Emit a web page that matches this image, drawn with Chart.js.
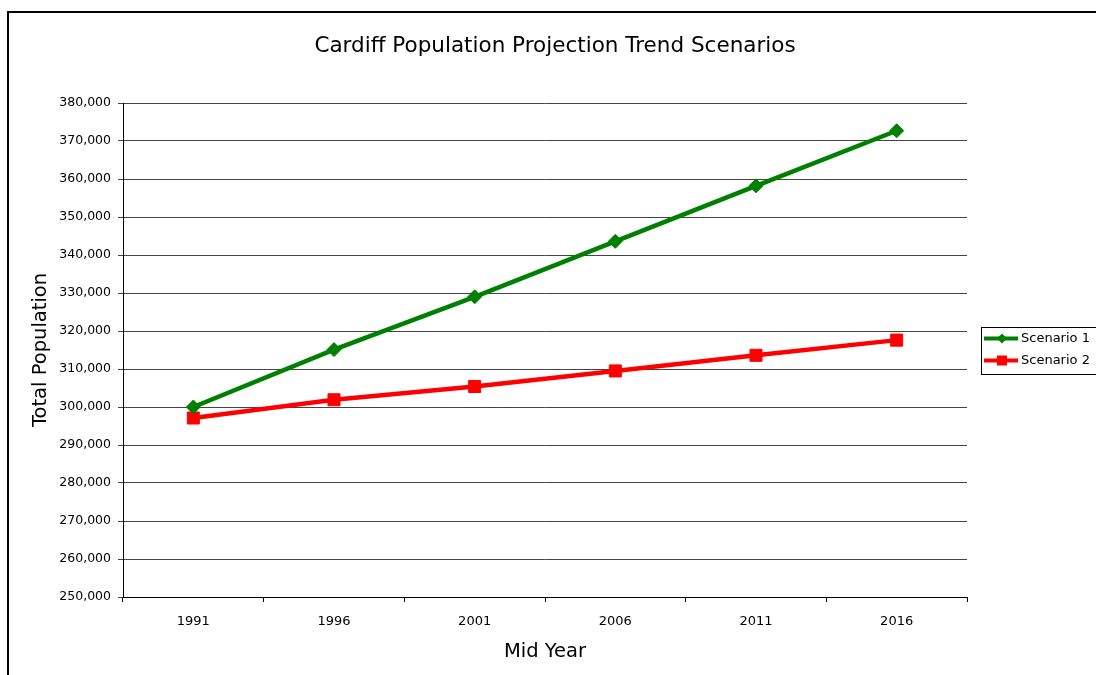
<!DOCTYPE html>
<html>
<head>
<meta charset="utf-8">
<script src="https://cdn.jsdelivr.net/npm/chart.js@4"></script>
<style>
    html, body {
        margin: 0;
        padding: 0;
        background: #fff;
        overflow: hidden;
    }

    #wrap {
        position: relative;
        width: 1096px;
        height: 675px;
    }

    #frame {
        position: absolute;
        left: 7px;
        top: 11px;
        width: 1200px;
        height: 800px;
        border: 2px solid #000;
        pointer-events: none;
    }
</style>
</head>
<body>
<div id="wrap">
    <canvas id="popChart" width="1096" height="675"></canvas>
    <div id="frame"></div>
</div>

<script>
const years = ["1991", "1996", "2001", "2006", "2011", "2016"];

const scenario1 = [300000, 315100, 329000, 343600, 358200, 372700];
const scenario2 = [297100, 301900, 305400, 309500, 313600, 317600];

const yMin = 250000;
const yMax = 380000;
const yStep = 10000;

const chartTitle = "Cardiff Population Projection Trend Scenarios";

const FONT = "'DejaVu Sans', sans-serif";

// title centred on the whole frame, not just the plot + axes
const frameTitle = {
    id: "frameTitle",
    afterDraw(chart) {
        const { ctx } = chart;
        ctx.save();
        ctx.font = "21.5px " + FONT;
        ctx.fillStyle = "#000";
        ctx.textAlign = "center";
        ctx.textBaseline = "middle";
        ctx.fillText(chartTitle, chart.width / 2 + 7, 46);
        ctx.restore();
    },
};

// boxed legend with a line + marker sample, drawn to the right of the plot
const boxLegend = {
    id: "boxLegend",
    afterDraw(chart) {
        const { ctx, chartArea } = chart;
        const sets = chart.data.datasets;
        const rowH = 22;
        const left = chartArea.right + 14;
        const width = 130;
        const height = sets.length * rowH + 3;
        const top = (chartArea.top + chartArea.bottom) / 2 - height / 2;

        ctx.save();
        ctx.strokeStyle = "#000";
        ctx.lineWidth = 1;
        ctx.strokeRect(left + 0.5, Math.round(top) + 0.5, width, Math.round(height));

        ctx.font = "13px " + FONT;
        ctx.textBaseline = "middle";

        sets.forEach((ds, i) => {
            const cy = top + 12 + i * rowH;
            ctx.strokeStyle = ds.borderColor;
            ctx.lineWidth = 4;
            ctx.beginPath();
            ctx.moveTo(left + 3, cy);
            ctx.lineTo(left + 37, cy);
            ctx.stroke();

            ctx.fillStyle = ds.borderColor;
            if (ds.pointStyle === "rectRot") {
                ctx.beginPath();
                ctx.moveTo(left + 21, cy - 5);
                ctx.lineTo(left + 26, cy);
                ctx.lineTo(left + 21, cy + 5);
                ctx.lineTo(left + 16, cy);
                ctx.closePath();
                ctx.fill();
            } else {
                ctx.fillRect(left + 16, cy - 5, 10, 10);
            }

            ctx.fillStyle = "#000";
            ctx.fillText(ds.label, left + 40, cy);
        });
        ctx.restore();
    },
};

new Chart(document.getElementById("popChart"), {
    type: "line",

    data: {
        labels: years,

        datasets: [
            {
                label: "Scenario 1",
                data: scenario1,
                borderColor: "#008000",
                backgroundColor: "#008000",
                borderWidth: 4.5,
                pointStyle: "rectRot",
                pointRadius: 7,
                pointBorderWidth: 1,
                tension: 0,
            },
            {
                label: "Scenario 2",
                data: scenario2,
                borderColor: "#ff0000",
                backgroundColor: "#ff0000",
                borderWidth: 4.5,
                pointStyle: "rect",
                pointRadius: 8.5,
                pointBorderWidth: 1,
                tension: 0,
            },
        ],
    },

    options: {
        responsive: false,
        animation: false,
        devicePixelRatio: 1,

        layout: {
            padding: {
                left: 22,
                right: 129,
                top: 103,
                bottom: 11,
            },
        },

        plugins: {
            legend: {
                display: false,
            },

            tooltip: {
                enabled: false,
            },

            title: {
                display: false,
            },
        },

        scales: {
            x: {
                offset: true,

                grid: {
                    offset: true,
                    drawOnChartArea: false,
                    drawTicks: true,
                    tickLength: 5,
                    color: "#000",
                },

                border: {
                    color: "#000",
                    width: 1,
                },

                ticks: {
                    color: "#000",
                    padding: 12,
                    maxRotation: 0,
                    font: {
                        family: FONT,
                        size: 13,
                    },
                },

                title: {
                    display: true,
                    text: "Mid Year",
                    color: "#000",
                    font: {
                        family: FONT,
                        size: 19.5,
                    },
                    padding: {
                        top: 10,
                        bottom: 0,
                    },
                },

                afterFit(scale) {
                    scale.height = 67;
                },
            },

            y: {
                min: yMin,
                max: yMax,

                grid: {
                    color: "#444",
                    tickLength: 5,
                },

                border: {
                    color: "#000",
                    width: 1,
                },

                ticks: {
                    stepSize: yStep,
                    color: "#000",
                    padding: 7,
                    font: {
                        family: FONT,
                        size: 12.5,
                    },
                    callback: (v) => v.toLocaleString("en-US"),
                },

                title: {
                    display: true,
                    text: "Total Population",
                    color: "#000",
                    font: {
                        family: FONT,
                        size: 19.5,
                    },
                    padding: {
                        top: 7,
                        bottom: 0,
                    },
                },

                afterFit(scale) {
                    scale.width = 101;
                },
            },
        },
    },

    plugins: [frameTitle, boxLegend],
});
</script>
</body>
</html>
